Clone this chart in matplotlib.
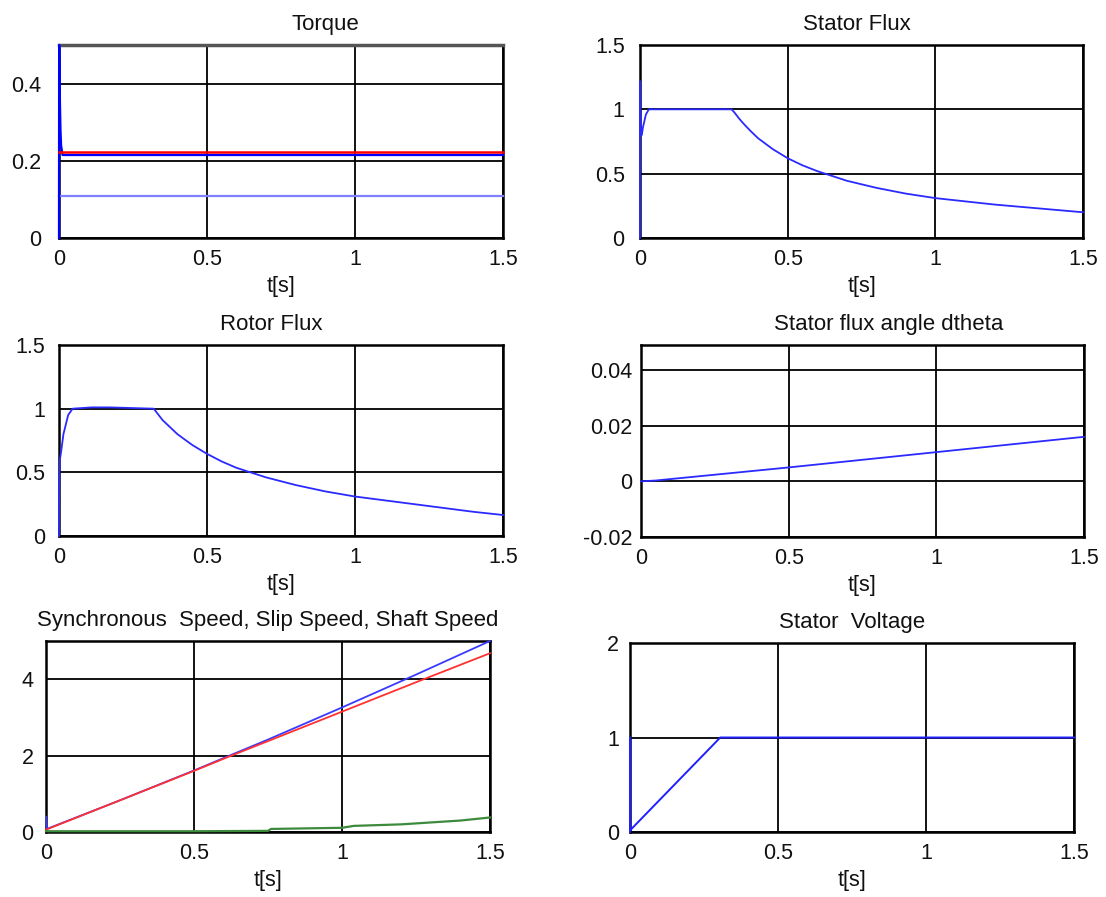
#!/usr/bin/env python

import matplotlib
matplotlib.use('Agg')
import matplotlib.pyplot as plt

plt.rc('font', family='Liberation Sans', size=15.5)

# --- data ---
t_te = [0, 0.0004, 0.001, 0.003, 0.005, 0.007, 0.009, 0.012, 1.5]
te = [0, 0.5, 0.5, 0.36, 0.28, 0.24, 0.23, 0.215, 0.215]
t_ref = [0, 1.5]
te_ref = [0.222, 0.222]
te_load = [0.11, 0.11]

t_sf = [0, 0.0005, 0.001, 0.002, 0.004, 0.006, 0.01, 0.02, 0.03, 0.31,
        0.32, 0.335, 0.35, 0.375, 0.4, 0.45, 0.5, 0.55, 0.6, 0.7, 0.8,
        0.9, 1.0, 1.1, 1.2, 1.3, 1.4, 1.5]
psi_s = [0, 1.22, 1.1, 0.95, 0.8, 0.8, 0.86, 0.96, 1.0, 1.0,
         0.975, 0.93, 0.89, 0.83, 0.775, 0.69, 0.62, 0.565, 0.52, 0.445,
         0.39, 0.345, 0.31, 0.285, 0.26, 0.24, 0.22, 0.2]

t_rf = [0, 0.0005, 0.001, 0.003, 0.007, 0.015, 0.031, 0.046, 0.11, 0.17,
        0.32, 0.335, 0.35, 0.375, 0.4, 0.45, 0.5, 0.55, 0.6, 0.7, 0.8,
        0.9, 1.0, 1.1, 1.2, 1.3, 1.4, 1.5]
psi_r = [0, 0.38, 0.45, 0.6, 0.66, 0.8, 0.95, 1.0, 1.01, 1.01,
         1.0, 0.955, 0.91, 0.855, 0.80, 0.715, 0.645, 0.585, 0.535, 0.46,
         0.40, 0.35, 0.31, 0.28, 0.25, 0.22, 0.19, 0.165]

t_th = [0, 0.05, 0.5, 1.0, 1.5]
dtheta = [0, 0.0003, 0.005, 0.0105, 0.016]

t_sp = [0, 0.003, 0.25, 0.5, 0.62, 0.75, 1.0, 1.25, 1.5]
w_sync = [0.4, 0.08, 0.83, 1.61, 2.0, 2.42, 3.26, 4.12, 5.0]
w_shaft = [0.05, 0.07, 0.83, 1.6, 1.98, 2.38, 3.15, 3.92, 4.68]
t_slip = [0, 0.5, 0.75, 0.76, 1.0, 1.04, 1.2, 1.3, 1.4, 1.5]
w_slip = [0.02, 0.02, 0.03, 0.08, 0.11, 0.16, 0.2, 0.25, 0.3, 0.38]

t_vs = [0, 0.0005, 0.001, 0.305, 1.5]
vs = [0, 1.0, 0.02, 1.0, 1.0]

W, H = 1106, 897
fig = plt.figure(figsize=(W / 100, H / 100), dpi=100)


def panel(l, t, r, b, title, ylim, yticks, tx=0.5, ypad=9):
    ax = fig.add_axes([l / W, 1 - b / H, (r - l) / W, (b - t) / H])
    ax.set_xlim(0, 1.5)
    ax.set_ylim(*ylim)
    ax.set_xticks([0, 0.5, 1, 1.5])
    ax.set_xticklabels(['0', '0.5', '1', '1.5'])
    ax.set_yticks(yticks)
    ax.set_yticklabels(['%g' % v for v in yticks])
    ax.grid(True, color='black', linewidth=1.3)
    ax.set_axisbelow(True)
    ax.tick_params(length=0, colors='#111111')
    ax.tick_params(axis='y', pad=ypad)
    ax.tick_params(axis='x', pad=8)
    for s in ax.spines.values():
        s.set_linewidth(1.8)
    ax.set_title(title, x=tx, pad=11, fontsize=16, color='#111111')
    ax.set_xlabel('t[s]', labelpad=4, color='#111111')
    return ax


def trace(ax, x, y, color, lw=1.3):
    ax.plot(x, y, color=color, lw=lw, zorder=3, clip_on=False)


ax1 = panel(59, 45, 503, 238, 'Torque', (0, 0.5), [0, 0.2, 0.4], tx=0.60, ypad=13)
trace(ax1, t_ref, te_load, '#7f7fff', 1.6)
trace(ax1, t_te, te, '#0000ff', 1.6)
trace(ax1, t_ref, te_ref, '#ff0000', 1.8)
ax1.spines['top'].set_color('#555555')
ax1.spines['top'].set_linewidth(2.5)

ax2 = panel(640, 45, 1083, 238, 'Stator Flux', (0, 1.5), [0, 0.5, 1, 1.5], tx=0.49, ypad=11)
trace(ax2, t_sf, psi_s, '#2a2aff')

ax3 = panel(59, 345, 503, 536, 'Rotor Flux', (0, 1.5), [0, 0.5, 1, 1.5], tx=0.477, ypad=10)
trace(ax3, t_rf, psi_r, '#2a2aff')

ax4 = panel(641, 345, 1084, 537, 'Stator flux angle dtheta', (-0.02, 0.049),
            [-0.02, 0, 0.02, 0.04], tx=0.56, ypad=6)
trace(ax4, t_th, dtheta, '#2a2aff')

ax5 = panel(46, 641, 490, 832, 'Synchronous  Speed, Slip Speed, Shaft Speed',
            (0, 5), [0, 2, 4], ypad=9)
trace(ax5, t_sp, w_sync, '#3a3aff')
trace(ax5, t_sp, w_shaft, '#ff3030')
trace(ax5, t_slip, w_slip, '#3c8a3c', 1.6)

ax6 = panel(630, 643, 1074, 832, 'Stator  Voltage', (0, 2), [0, 1, 2], ypad=8)
trace(ax6, t_vs, vs, '#1f1fff', 1.4)

plt.savefig('out.png', dpi=100)
